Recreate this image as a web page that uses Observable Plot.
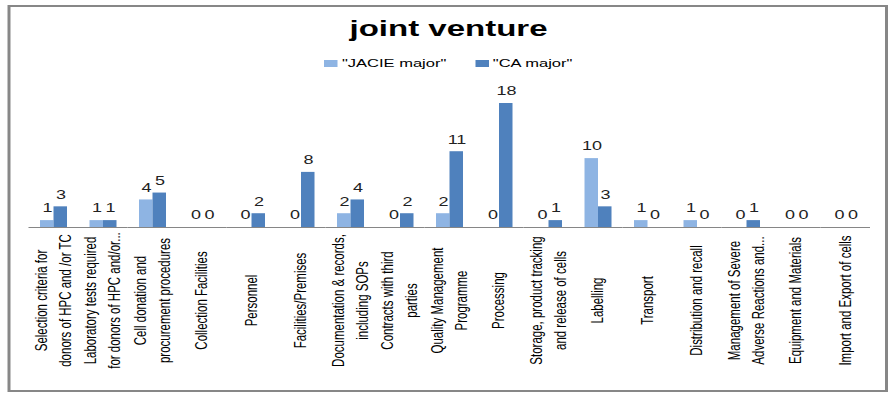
<!DOCTYPE html>
<html><head><meta charset="utf-8">
<script src="https://cdn.jsdelivr.net/npm/d3@7"></script>
<script src="https://cdn.jsdelivr.net/npm/@observablehq/plot@0.6"></script>
<style>
html,body{margin:0;padding:0;background:#fff;}
#wrap{position:absolute;left:0;top:0;width:595.33px;height:397px;transform:scaleX(1.5);transform-origin:0 0;font-family:"Liberation Sans",Arial,sans-serif;color:#000;}
#frame{position:absolute;left:4.67px;top:5px;width:587.33px;height:387px;box-sizing:border-box;border:2px solid #878787;}
#title{position:absolute;left:0;top:16px;width:598px;text-align:center;font-weight:bold;font-size:22px;line-height:26px;}
#legend{position:absolute;top:56px;left:216px;display:flex;align-items:center;font-size:11px;line-height:14px;white-space:nowrap;}
.item{display:flex;align-items:center;}
.sw{display:inline-block;width:9px;height:7px;margin-right:3px;}
#chart{position:absolute;left:0;top:80px;line-height:0;}
#chart svg{display:block;}
</style></head>
<body>
<div id="wrap">
  <div id="frame"></div>
  <div id="title"></div>
  <div id="legend"></div>
  <div id="chart"></div>
</div>
<script>
const title = "joint venture";
const seriesNames = ['"JACIE major"', '"CA major"'];
const seriesColors = ["#8EB4E3", "#4F81BD"];
const categories = [
  "Selection criteria for\ndonors of HPC and /or TC",
  "Laboratory tests required\nfor donors of HPC and/or...",
  "Cell donation and\nprocurement procedures",
  "Collection Facilities",
  "Personnel",
  "Facilities/Premises",
  "Documentation & records,\nincluding SOPs",
  "Contracts with third\nparties",
  "Quality Management\nProgramme",
  "Processing",
  "Storage, product tracking\nand release of cells",
  "Labelling",
  "Transport",
  "Distribution and recall",
  "Management of Severe\nAdverse Reactions and...",
  "Equipment and Materials",
  "Import and Export of cells"
];
const jacieMajor = [1, 1, 4, 0, 0, 0, 2, 0, 2, 0, 0, 10, 1, 1, 0, 0, 0];
const caMajor    = [3, 1, 5, 0, 2, 8, 4, 2, 11, 18, 1, 3, 0, 0, 1, 0, 0];

document.getElementById("title").textContent = title;
const legend = document.getElementById("legend");
seriesNames.forEach((name, i) => {
  const item = document.createElement("span");
  item.className = "item";
  if (i > 0) item.style.marginLeft = "19px";
  const sw = document.createElement("span");
  sw.className = "sw";
  sw.style.background = seriesColors[i];
  item.appendChild(sw);
  item.appendChild(document.createTextNode(name));
  legend.appendChild(item);
});

const data = categories.flatMap((c, i) => [
  {category: c, series: seriesNames[0], value: jacieMajor[i]},
  {category: c, series: seriesNames[1], value: caMajor[i]}
]);
const oneLine = categories.filter(c => !c.includes("\n"));
const twoLine = categories.filter(c => c.includes("\n"));
const labelStyle = {frameAnchor: "bottom", dy: 73, rotate: -90, fontSize: 11.5, fill: "#000"};

const chart = Plot.plot({
  width: 595,
  height: 310,
  marginLeft: 17.33,
  marginRight: 14.3,
  marginTop: 23,
  marginBottom: 163,
  style: {fontFamily: "'Liberation Sans', Arial, sans-serif", background: "transparent", overflow: "visible"},
  fx: {domain: categories, padding: 0, axis: null},
  x: {domain: seriesNames, paddingInner: 0, paddingOuter: 0.78, axis: null},
  y: {domain: [0, 18], axis: null},
  color: {domain: seriesNames, range: seriesColors},
  marks: [
    Plot.barY(data, {fx: "category", x: "series", y: "value", fill: "series"}),
    Plot.ruleY([0], {stroke: "#868686", strokeWidth: 1}),
    Plot.text(data, {fx: "category", x: "series", y: "value", text: d => String(d.value), dy: -12, fontSize: 12, fill: "#222"}),
    Plot.text(oneLine, {fx: d => d, text: d => d, dx: 3, ...labelStyle}),
    Plot.text(twoLine, {fx: d => d, text: d => d.split("\n")[0], dx: -5, ...labelStyle}),
    Plot.text(twoLine, {fx: d => d, text: d => d.split("\n")[1], dx: 11, ...labelStyle})
  ]
});
document.getElementById("chart").appendChild(chart);
</script>
</body></html>
